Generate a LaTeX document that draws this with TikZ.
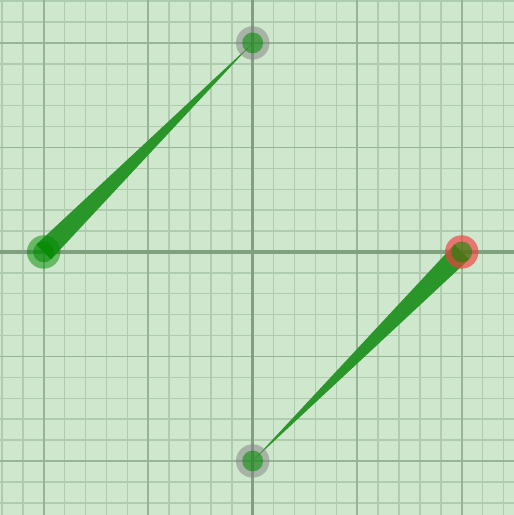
\documentclass[tikz,border=0pt]{standalone}
\usetikzlibrary{calc}
\definecolor{bgcol}{RGB}{207,231,205}
\definecolor{minorcol}{RGB}{176,204,175}
\definecolor{majorcol}{RGB}{150,180,150}
\definecolor{axiscol}{RGB}{128,160,128}
\definecolor{strokecol}{RGB}{42,150,42}
\definecolor{ptcol}{RGB}{0,140,0}
\definecolor{redcol}{RGB}{245,60,60}
\tikzset{
  taper/.style={fill=strokecol, draw=none},
  halo/.style={fill=#1, fill opacity=0.5, draw=none},
  dot/.style={fill=ptcol, fill opacity=0.55, draw=none}
}
\begin{document}
\begin{tikzpicture}[line join=round, line cap=butt]
	\fill[bgcol] (-2.418,-2.517) rectangle (2.500,2.411);
	\useasboundingbox (-2.418,-2.517) rectangle (2.500,2.411);
	\draw[minorcol, line width=0.4pt, step=0.2] (-2.418,-2.517) grid (2.500,2.411);
	\draw[majorcol, line width=0.5pt, step=1] (-2.418,-2.517) grid (2.500,2.411);
	\draw[axiscol, line width=0.9pt] (-2.418,0) -- (2.500,0) (0,-2.517) -- (0,2.411);
	\coordinate (T) at (0,2);
	\coordinate (L) at (-2,0);
	\coordinate (R) at (2,0);
	\coordinate (B) at (0,-2);
	% tapered strokes
	\fill[taper] ($(L)!0.1cm!90:(T)$) -- ($(L)!0.1cm!-90:(T)$) -- (T) -- cycle;
	\fill[taper] ($(R)!0.1cm!90:(B)$) -- ($(R)!0.1cm!-90:(B)$) -- (B) -- cycle;
	% points
	\fill[halo=ptcol] (L) circle(0.16);
	\fill[halo=gray] (T) circle(0.16);
	\fill[halo=gray] (B) circle(0.16);
	\fill[halo=redcol, fill opacity=0.65] (R) circle(0.16);
	\foreach \p in {L,T,R,B}
		\fill[dot] (\p) circle(0.1);
\end{tikzpicture}
\end{document}
